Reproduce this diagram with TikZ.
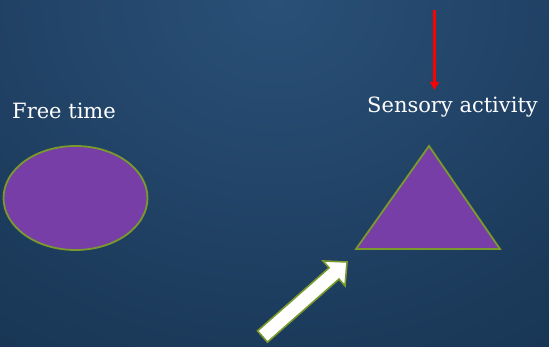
\documentclass[tikz,border=0pt]{standalone}
\usepackage{fontspec}
\setmainfont{DejaVu Serif}
\usetikzlibrary{shapes.geometric,arrows.meta}
\definecolor{bglight}{HTML}{2A5078}
\definecolor{bgdark}{HTML}{173452}
\definecolor{shapefill}{HTML}{773EA8}
\definecolor{shapeline}{HTML}{7A9A2C}
\tikzset{
  label text/.style={text=white, font=\fontsize{21}{24}\selectfont, inner sep=0pt},
  purple shape/.style={fill=shapefill, draw=shapeline, line width=1.8pt},
}
\begin{document}
\begin{tikzpicture}[x=1pt, y=-1pt]
  \useasboundingbox (0,0) rectangle (549,347);
  % slide background
  \begin{scope}
    \clip (0,0) rectangle (549,347);
    \fill[bgdark] (0,0) rectangle (549,347);
    \shade[inner color=bglight, outer color=bgdark] (-250,-450) rectangle (800,450);
  \end{scope}

  % labels
  \node[label text, anchor=west] (free) at (12,111) {Free time};
  \node[label text, anchor=west] (sense) at (367,107) {Sensory activity};

  % ellipse
  \node[ellipse, purple shape, minimum width=144pt, minimum height=104pt] (oval) at (75.5,198) {};

  % triangle
  \coordinate (apex) at (429,146);
  \coordinate (bl) at (356,249);
  \coordinate (br) at (500,249);
  \draw[purple shape, line join=miter] (apex) -- (br) -- (bl) -- cycle;

  % red arrow pointing down at the label
  \coordinate (redtop) at (434.5,10);
  \coordinate (redend) at (434.5,90);
  \draw[red, line width=2.6pt, -{Triangle[width=8.5pt,length=8pt]}] (redtop) -- (redend);

  % white block arrow
  \begin{scope}[shift={(262.5,336.5)}, rotate=41.4]
    \draw[fill=white, draw=shapeline, line width=1.6pt, line join=miter]
      (0,-7.5) -- (95.4,-7.5) -- (95.4,-16.6) -- (112.7,0)
      -- (95.4,16.6) -- (95.4,7.5) -- (0,7.5) -- cycle;
  \end{scope}
\end{tikzpicture}
\end{document}
